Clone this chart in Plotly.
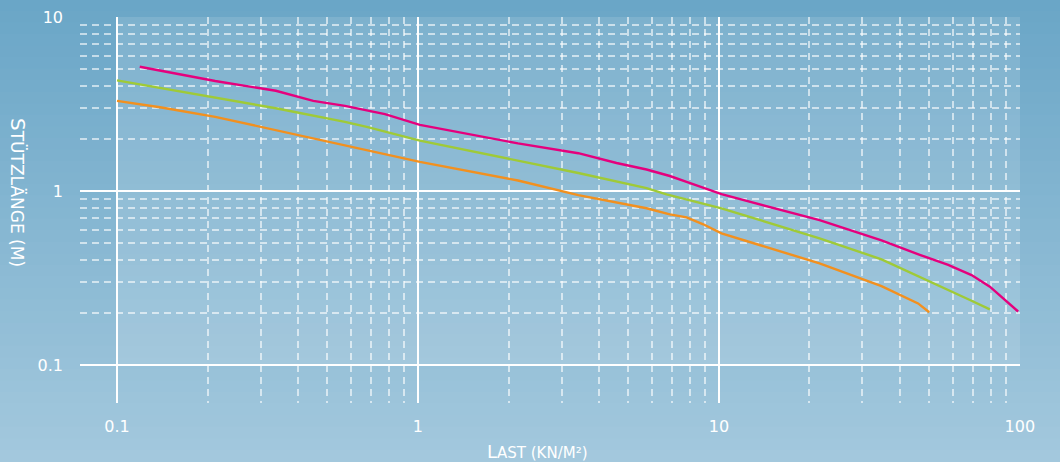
import plotly.graph_objects as go
import numpy as np

# ---- data ----
load_pink = [0.119, 0.212, 0.337, 0.449, 0.572, 0.777, 1.015, 2.15, 3.41, 4.57, 5.75, 6.87, 7.81, 10.2, 21.6, 34.7, 46.5, 57.8, 69.1, 79.5, 98.7]
len_pink = [5.18, 4.29, 3.77, 3.30, 3.09, 2.77, 2.40, 1.88, 1.65, 1.45, 1.33, 1.22, 1.13, 0.96, 0.68, 0.52, 0.43, 0.376, 0.329, 0.282, 0.203]

load_green = [0.1, 0.212, 0.337, 0.572, 0.676, 1.015, 2.15, 3.41, 5.75, 6.70, 10.2, 21.6, 34.7, 46.5, 57.8, 69.1, 79.5]
len_green = [4.33, 3.44, 2.99, 2.50, 2.34, 1.95, 1.49, 1.27, 1.04, 0.957, 0.796, 0.535, 0.405, 0.322, 0.272, 0.234, 0.209]

load_orange = [0.1, 0.139, 0.212, 0.337, 0.572, 1.015, 2.15, 3.41, 5.75, 6.87, 7.81, 8.87, 10.2, 21.6, 34.7, 45.9, 50.0]
len_orange = [3.30, 3.03, 2.67, 2.24, 1.84, 1.47, 1.15, 0.948, 0.796, 0.735, 0.706, 0.644, 0.571, 0.384, 0.284, 0.226, 0.201]

x_major = [0.1, 1, 10, 100]
x_major_text = ["0.1", "1", "10", "100"]
x_minor = [m * d for d in (0.1, 1, 10) for m in range(2, 10)]
y_major = [0.1, 1, 10]
y_major_text = ["0.1", "1", "10"]
y_minor = [m * d for d in (0.1, 1) for m in range(2, 10)]

x_title = "<span style='font-size:18px'>L</span>AST (KN/M²)"
y_title = "<span style='font-size:20px'>S</span>TÜTZLÄNGE (M)"

FONT = "DejaVu Sans"

fig = go.Figure()
for xs, ys, col in [(load_pink, len_pink, "#e5007d"),
                    (load_green, len_green, "#9fca37"),
                    (load_orange, len_orange, "#f2901f")]:
    fig.add_trace(go.Scatter(x=xs, y=ys, mode="lines",
                             line=dict(color=col, width=2.4),
                             showlegend=False, hoverinfo="skip"))

# background vertical gradient
shapes = []
top = np.array([0x6a, 0xa6, 0xc7])
bot = np.array([0xa4, 0xc9, 0xde])
y_lo, y_hi = -59 / 386, 1 + 17 / 386
n = 40
for i in range(n):
    c = top + (bot - top) * ((i + 0.5) / n)
    shapes.append(dict(type="rect", xref="paper", yref="paper",
                       x0=-0.1, x1=1.1,
                       y0=y_hi - (y_hi - y_lo) * (i + 1) / n - 0.002,
                       y1=y_hi - (y_hi - y_lo) * i / n + 0.002,
                       fillcolor="rgb(%d,%d,%d)" % tuple(c.astype(int)),
                       line=dict(width=0), layer="below"))
# lighter plot region (0.1..100 x 0.1..10)
shapes.append(dict(type="rect", xref="paper", yref="paper",
                   x0=37 / 940, x1=1, y0=38 / 386, y1=1,
                   fillcolor="rgba(255,255,255,0.12)", line=dict(width=0), layer="below"))

grid_minor = dict(tickmode="array", showgrid=True, gridcolor="rgba(255,255,255,0.6)",
                  gridwidth=1.5, griddash="7px,5px", ticks="")

fig.update_layout(
    width=1060, height=462,
    margin=dict(l=80, r=40, t=17, b=59, autoexpand=False),
    paper_bgcolor="#86b7d2",
    plot_bgcolor="rgba(0,0,0,0)",
    shapes=shapes,
    font=dict(family=FONT, color="white", size=16),
    xaxis=dict(type="log", range=[-1 - 37 / 301, 2.0005], automargin=False,
               tickmode="array", tickvals=x_major, ticktext=x_major_text,
               showgrid=True, gridcolor="white", gridwidth=2,
               ticks="", ticklabelstandoff=12, showline=False, zeroline=False,
               tickfont=dict(family=FONT, size=16, color="white"),
               minor=dict(tickvals=x_minor, **grid_minor)),
    yaxis=dict(type="log", range=[-1 - 38 / 174, 1.0005], automargin=False,
               tickmode="array", tickvals=y_major, ticktext=y_major_text,
               showgrid=True, gridcolor="white", gridwidth=2,
               ticks="", ticklabelstandoff=16, showline=False, zeroline=False,
               tickfont=dict(family=FONT, size=16, color="white"),
               minor=dict(tickvals=y_minor, **grid_minor)),
    annotations=[
        dict(text=x_title, xref="paper", yref="paper", x=(537 - 80) / 940, y=(403 - 451) / 386,
             showarrow=False, font=dict(family=FONT, size=15, color="white"),
             xanchor="center", yanchor="middle"),
        dict(text=y_title, xref="paper", yref="paper", x=(18 - 80) / 940, y=(403 - 192) / 386,
             showarrow=False, textangle=90, font=dict(family=FONT, size=17, color="white"),
             xanchor="center", yanchor="middle"),
    ],
)

fig.write_html("out.html", config={"displayModeBar": False},
               post_script="document.body.style.margin='0';document.body.style.background='#6aa6c7';")
